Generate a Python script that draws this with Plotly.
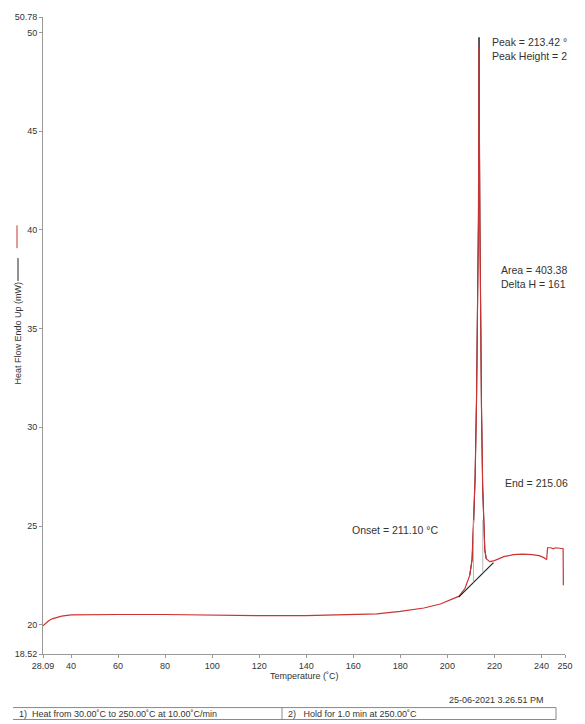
import plotly.graph_objects as go

# ---- data ----
temp_red = [28.09, 29.0, 30.5, 32.0, 34.0, 36.0, 40.0, 50.0, 60.0, 80.0, 100.0, 120.0, 140.0, 160.0,
            170.0, 180.0, 190.0, 197.0, 202.0, 205.0, 207.5, 209.5, 210.5, 211.2, 211.8, 212.4,
            212.9, 213.2, 213.35, 213.45, 213.6, 213.85, 214.05, 214.5, 215.0, 215.5, 215.9, 216.5,
            218.0, 220.0, 224.0, 228.0, 232.0, 236.0, 239.0, 241.0, 242.2, 242.6, 244.0, 245.0,
            246.0, 249.2, 249.3]
heat_red = [19.95, 20.05, 20.2, 20.3, 20.38, 20.44, 20.5, 20.52, 20.52, 20.52, 20.48, 20.46, 20.46, 20.5,
            20.55, 20.68, 20.85, 21.05, 21.3, 21.45, 21.85, 22.5, 23.3, 25.3, 27.5, 31.5,
            36.2, 40.5, 45.0, 49.3, 45.0, 40.0, 36.2, 31.0, 27.0, 25.0, 23.8, 23.35,
            23.2, 23.25, 23.45, 23.55, 23.58, 23.55, 23.5, 23.4, 23.3, 23.9, 23.9, 23.85,
            23.9, 23.85, 22.0]

temp_black = [209.5, 210.5, 211.2, 211.8, 212.4, 212.9, 213.2, 213.35, 213.45, 213.6, 213.85, 214.05,
              214.5, 215.0, 215.5, 215.9, 216.5]
heat_black = [22.5, 23.3, 25.3, 27.5, 31.5, 36.2, 40.5, 45.0, 49.75, 45.0, 40.0, 36.2,
              31.0, 27.0, 25.0, 23.8, 23.35]

baseline_temp = [204.8, 219.6]
baseline_heat = [21.4, 23.15]

onset_temp = 211.10
end_temp = 215.06

x_tickvals = [28.09, 40, 60, 80, 100, 120, 140, 160, 180, 200, 220, 240, 250]
x_ticktext = ["28.09", "40", "60", "80", "100", "120", "140", "160", "180", "200", "220", "240", "250"]
y_tickvals = [18.52, 20, 25, 30, 35, 40, 45, 50, 50.78]
y_ticktext = ["18.52", "20", "25", "30", "35", "40", "45", "50", "50.78"]

FONT = "Liberation Sans, Arial, sans-serif"
TXT = "#333333"

fig = go.Figure()
fig.add_trace(go.Scatter(x=temp_black, y=heat_black, mode="lines",
                         line=dict(color="#222222", width=1), hoverinfo="skip"))
fig.add_trace(go.Scatter(x=temp_red, y=heat_red, mode="lines",
                         line=dict(color="#cc3333", width=1.2), hoverinfo="skip"))
fig.add_trace(go.Scatter(x=baseline_temp, y=baseline_heat, mode="lines",
                         line=dict(color="#222222", width=1.2), hoverinfo="skip"))
# onset / end verticals
for t in (onset_temp, end_temp):
    yb = baseline_heat[0] + (t - baseline_temp[0]) / (baseline_temp[1] - baseline_temp[0]) * (baseline_heat[1] - baseline_heat[0])
    fig.add_trace(go.Scatter(x=[t, t], y=[yb, 25.3], mode="lines",
                             line=dict(color="#aaaaaa", width=0.8), hoverinfo="skip"))

fig.update_layout(
    width=585, height=724,
    margin=dict(l=43, r=20, t=12, b=70),
    paper_bgcolor="white", plot_bgcolor="white",
    showlegend=False,
    font=dict(family=FONT, size=9, color=TXT),
    xaxis=dict(range=[28.09, 250], tickvals=x_tickvals, ticktext=x_ticktext,
               showgrid=False, zeroline=False, showline=True, linecolor="#999999", linewidth=1,
               ticks="outside", ticklen=3, tickcolor="#999999",
               tickfont=dict(size=9, color=TXT)),
    yaxis=dict(range=[18.52, 50.78], tickvals=y_tickvals, ticktext=y_ticktext,
               showgrid=False, zeroline=False, showline=True, linecolor="#999999", linewidth=1,
               ticks="outside", ticklen=3, tickcolor="#999999",
               tickfont=dict(size=9, color=TXT)),
)

def ann(x, y, text, xref="x", yref="y", xanchor="left", size=10.5, angle=0):
    fig.add_annotation(x=x, y=y, xref=xref, yref=yref, text=text, showarrow=False,
                       xanchor=xanchor, yanchor="middle", align="left", textangle=angle,
                       font=dict(family=FONT, size=size, color=TXT))

ann(218.1, 49.15, "Peak = 213.42 °<br>Peak Height = 2")
ann(221.9, 37.6, "Area = 403.38<br>Delta H = 161")
ann(223.7, 27.16, "End = 215.06")
ann(196.9, 24.8, "Onset = 211.10 °C", xanchor="right")

def py(p):  # pixel y -> paper y
    return (654 - p) / 642.0

def px(p):  # pixel x -> paper x
    return (p - 43) / 522.0

ann(0.5, py(676), "Temperature (˚C)", xref="paper", yref="paper", xanchor="center", size=9)
ann(px(546), py(700), "25-06-2021 3.26.51 PM", xref="paper", yref="paper", xanchor="right", size=9)
ann(px(17), py(714), "1)  Heat from 30.00˚C to 250.00˚C at 10.00˚C/min", xref="paper", yref="paper", size=9)
ann(px(286), py(714), "2)   Hold for 1.0 min at 250.00˚C", xref="paper", yref="paper", size=9)
ann(px(18), py(331), "Heat Flow Endo Up (mW)", xref="paper", yref="paper", xanchor="center", size=9, angle=-90)

# legend marks beside the y title
fig.add_shape(type="line", xref="paper", yref="paper", x0=px(17), x1=px(17), y0=py(222), y1=py(245),
              line=dict(color="#cc3333", width=1))
fig.add_shape(type="line", xref="paper", yref="paper", x0=px(18), x1=px(18), y0=py(255), y1=py(278),
              line=dict(color="#222222", width=1))
# method box
for yy in (708, 720):
    fig.add_shape(type="line", xref="paper", yref="paper", x0=px(13), x1=px(556), y0=py(yy), y1=py(yy),
                  line=dict(color="#888888", width=1))
for xx in (282, 556):
    fig.add_shape(type="line", xref="paper", yref="paper", x0=px(xx), x1=px(xx), y0=py(708), y1=py(720),
                  line=dict(color="#888888", width=1))

fig.write_html("out.html", config={"displayModeBar": False},
               post_script="document.body.style.margin='0';document.body.style.overflow='hidden';")
